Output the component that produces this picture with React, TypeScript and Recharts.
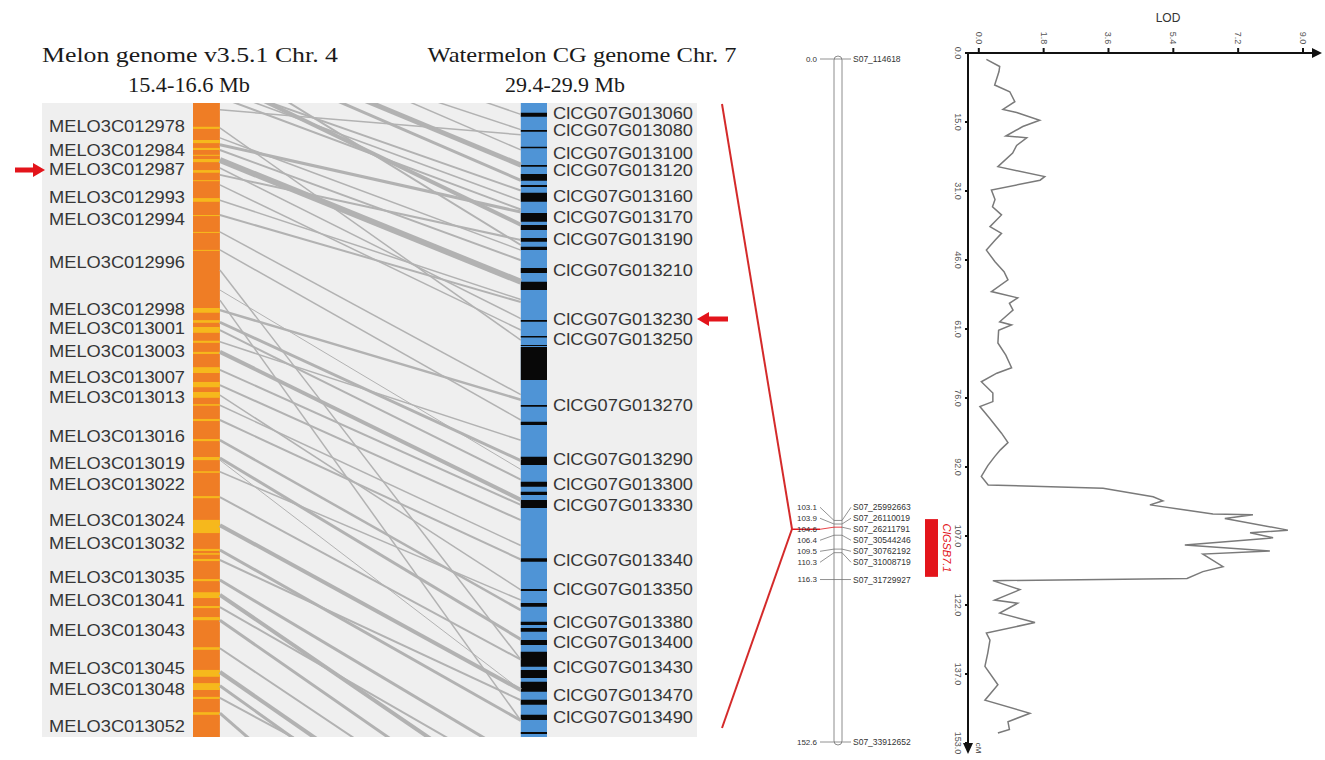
import React from 'react';
import { ScatterChart, Scatter, XAxis, YAxis, ReferenceArea, ReferenceLine } from 'recharts';

// ---- synteny panel (positions in Mb) ----
const melonGenes = [
  'MELO3C012978', 'MELO3C012984', 'MELO3C012987', 'MELO3C012993', 'MELO3C012994', 'MELO3C012996',
  'MELO3C012998', 'MELO3C013001', 'MELO3C013003', 'MELO3C013007', 'MELO3C013013', 'MELO3C013016',
  'MELO3C013019', 'MELO3C013022', 'MELO3C013024', 'MELO3C013032', 'MELO3C013035', 'MELO3C013041',
  'MELO3C013043', 'MELO3C013045', 'MELO3C013048', 'MELO3C013052',
];
const melonGenePos = [
  15.444, 15.488, 15.524, 15.578, 15.620, 15.700, 15.790, 15.825, 15.869, 15.918, 15.957, 16.030,
  16.082, 16.120, 16.189, 16.232, 16.297, 16.341, 16.397, 16.470, 16.508, 16.579,
];
const wmGenes = [
  'ClCG07G013060', 'ClCG07G013080', 'ClCG07G013100', 'ClCG07G013120', 'ClCG07G013160', 'ClCG07G013170',
  'ClCG07G013190', 'ClCG07G013210', 'ClCG07G013230', 'ClCG07G013250', 'ClCG07G013270', 'ClCG07G013290',
  'ClCG07G013300', 'ClCG07G013330', 'ClCG07G013340', 'ClCG07G013350', 'ClCG07G013380', 'ClCG07G013400',
  'ClCG07G013430', 'ClCG07G013470', 'ClCG07G013490',
];
const wmGenePos = [
  29.408, 29.421, 29.439, 29.453, 29.473, 29.490, 29.507, 29.532, 29.570, 29.586, 29.638, 29.681,
  29.700, 29.717, 29.760, 29.783, 29.809, 29.825, 29.845, 29.867, 29.884,
];
const melonStripes: [number, number][] = [
  [15.445, 15.449], [15.470, 15.476], [15.485, 15.489], [15.498, 15.500], [15.506, 15.512], [15.527, 15.532],
  [15.546, 15.548], [15.580, 15.587], [15.612, 15.614], [15.644, 15.646], [15.678, 15.680], [15.788, 15.797],
  [15.811, 15.816], [15.824, 15.835], [15.850, 15.854], [15.871, 15.875], [15.900, 15.911], [15.928, 15.938],
  [15.947, 15.958], [15.970, 15.973], [15.998, 16.002], [16.036, 16.040], [16.070, 16.076], [16.097, 16.100],
  [16.144, 16.148], [16.189, 16.214], [16.244, 16.248], [16.252, 16.255], [16.263, 16.267], [16.301, 16.305],
  [16.326, 16.337], [16.352, 16.356], [16.373, 16.379], [16.430, 16.435], [16.473, 16.486], [16.498, 16.511],
  [16.524, 16.528], [16.553, 16.558],
];
const wmStripes: [number, number][] = [
  [29.4077, 29.4108], [29.4213, 29.4226], [29.4345, 29.4357], [29.4489, 29.4502], [29.4560, 29.4613],
  [29.4647, 29.4662], [29.4707, 29.4778], [29.4868, 29.4936], [29.4962, 29.5002], [29.5065, 29.5094],
  [29.5133, 29.5159], [29.5301, 29.5341], [29.5409, 29.5475], [29.5711, 29.5725], [29.5838, 29.5849],
  [29.5908, 29.5916], [29.5924, 29.6185], [29.6382, 29.6395], [29.6513, 29.6540], [29.6789, 29.6855],
  [29.6987, 29.7026], [29.7065, 29.7091], [29.7131, 29.7194], [29.7591, 29.7617], [29.7833, 29.7849],
  [29.7943, 29.7972], [29.8091, 29.8117], [29.8140, 29.8170], [29.8235, 29.8274], [29.8327, 29.8446],
  [29.8472, 29.8535], [29.8564, 29.8643], [29.8707, 29.8746], [29.8825, 29.8865], [29.8960, 29.8976],
];
// melon Mb, watermelon Mb, block size (kb)
const links: [number, number, number][] = [
  [15.389, 29.484, 4], [15.375, 29.477, 3], [15.366, 29.469, 4], [15.356, 29.496, 8], [15.281, 29.449, 10],
  [15.300, 29.461, 6], [15.262, 29.421, 3], [15.243, 29.437, 3], [15.224, 29.409, 3], [15.319, 29.512, 4],
  [15.447, 29.587, 3], [15.479, 29.486, 6], [15.489, 29.524, 4], [15.508, 29.541, 12], [15.523, 29.570, 3],
  [15.536, 29.508, 4], [15.584, 29.555, 3], [15.612, 29.557, 4], [15.644, 29.630, 3], [15.678, 29.650, 3],
  [15.792, 29.634, 5], [15.815, 29.682, 6], [15.830, 29.697, 4], [15.852, 29.666, 3], [15.871, 29.713, 8],
  [15.905, 29.717, 4], [15.934, 29.729, 4], [15.953, 29.784, 3], [16.000, 29.760, 4], [16.038, 29.800, 5],
  [16.072, 29.823, 6], [16.098, 29.792, 3], [16.146, 29.839, 4], [16.199, 29.863, 8], [16.246, 29.887, 6],
  [16.265, 29.871, 4], [16.303, 29.918, 6], [16.331, 29.950, 8], [16.354, 29.934, 4], [16.379, 29.973, 6],
  [16.432, 29.989, 4], [16.477, 30.013, 8], [16.503, 30.029, 6], [16.526, 29.997, 4], [16.555, 30.087, 6],
  [15.773, 29.887, 3], [15.716, 29.839, 3], [15.413, 29.425, 3], [15.466, 29.516, 3], [15.555, 29.579, 3],
  [15.754, 29.689, 2], [15.972, 29.749, 3], [16.076, 29.863, 2],
];

// ---- linkage map (cM) ----
const markerNames = [
  'S07_114618', 'S07_25992663', 'S07_26110019', 'S07_26211791', 'S07_30544246',
  'S07_30762192', 'S07_31008719', 'S07_31729927', 'S07_33912652',
];
const markerPos = [0.0, 103.1, 103.9, 104.6, 106.4, 109.5, 110.3, 116.3, 152.6];
const qtlName = 'ClGSB7.1';
const qtlInterval: [number, number] = [102.8, 115.7];

// ---- LOD profile ----
const lodCm = [
  1.4, 3.0, 4.1, 7.1, 8.6, 10.8, 12.5, 13.2, 14.9, 16.3, 18.4, 18.8, 20.5, 22.2, 25.2, 27.4, 28.2, 30.4,
  32.5, 34.1, 35.9, 38.5, 40.0, 41.5, 43.7, 46.3, 48.5, 50.3, 52.9, 54.3, 55.5, 57.0, 59.6, 60.3, 61.5,
  64.3, 67.0, 69.8, 71.0, 72.9, 75.4, 77.3, 78.4, 81.0, 84.3, 86.4, 88.0, 89.5, 91.5, 93.9, 95.8, 96.5,
  98.4, 99.3, 100.2, 102.2, 102.4, 103.2, 105.8, 106.4, 107.5, 109.1, 110.4, 111.1, 113.9, 115.0, 116.5,
  117.0, 119.0, 121.3, 122.0, 124.2, 126.3, 128.6, 130.2, 133.0, 136.0, 140.1, 143.5, 146.4, 148.3, 150.0, 150.8,
];
const lodValues = [
  0.21, 0.58, 0.56, 0.44, 0.86, 1.0, 0.67, 1.05, 1.69, 1.22, 0.75, 1.33, 1.05, 0.94, 0.53, 1.83, 1.7, 0.35,
  0.45, 0.38, 0.63, 0.31, 0.63, 0.45, 0.21, 0.45, 0.7, 0.81, 0.35, 1.08, 0.85, 0.95, 0.58, 0.91, 0.55,
  0.53, 0.75, 0.91, 0.5, 0.07, 0.39, 0.39, 0.03, 0.3, 0.63, 0.81, 0.6, 0.44, 0.25, 0.07, 0.26, 3.45,
  4.84, 5.11, 4.75, 6.5, 7.61, 6.83, 8.58, 7.53, 8.17, 5.72, 8.08, 6.22, 6.78, 6.22, 5.78,
  0.39, 1.14, 0.44, 1.08, 0.58, 1.56, 0.21, 0.31, 0.25, 0.17, 0.53, 0.17, 1.42, 0.81, 0.85, 0.53,
];
const lodTicks = [0, 1.8, 3.6, 5.4, 7.2, 9.0];
const cmTicks = [0, 15.3, 30.6, 45.9, 61.2, 76.5, 91.8, 107.1, 122.4, 137.7, 153];
const cmTickLabels = ['0.0', '15.0', '31.0', '46.0', '61.0', '76.0', '92.0', '107.0', '122.0', '137.0', '153.0'];

const SANS = "'Liberation Sans', Arial, sans-serif";
const SERIF = "'Liberation Serif', 'Times New Roman', serif";
const RED = '#e3141b';

const MEL_DOMAIN: [number, number] = [15.4, 16.6];
const WM_DOMAIN: [number, number] = [29.4, 29.9];
const wmToMel = (v: number) =>
  MEL_DOMAIN[0] + ((v - WM_DOMAIN[0]) * (MEL_DOMAIN[1] - MEL_DOMAIN[0])) / (WM_DOMAIN[1] - WM_DOMAIN[0]);

// bar columns in the synteny plot (x units 0..100)
const ORANGE_R = 7.6;
const BLUE_L = 92.6;

const geneTick = (names: string[], positions: number[], anchor: 'start' | 'end', len: number) => (p: any) => {
  let i = positions.indexOf(p.payload.value);
  if (i < 0) i = positions.findIndex((v) => Math.abs(v - p.payload.value) < 1e-6);
  return (
    <text x={p.x} y={p.y} dy="0.36em" textAnchor={anchor} fontSize={17} fill="#363636" fontFamily={SANS}
      textLength={len} lengthAdjust="spacingAndGlyphs">
      {names[i]}
    </text>
  );
};

const SyntenyChart = () => (
  <ScatterChart width={655} height={634} margin={{ top: 0, right: 0, bottom: 0, left: 0 }}>
    <XAxis type="number" dataKey="x" domain={[0, 100]} hide allowDataOverflow />
    <YAxis yAxisId="mel" type="number" domain={MEL_DOMAIN} reversed allowDataOverflow ticks={melonGenePos}
      interval={0} width={151} axisLine={false} tickLine={false}
      tick={geneTick(melonGenes, melonGenePos, 'end', 136)} />
    <YAxis yAxisId="wm" orientation="right" type="number" domain={WM_DOMAIN} reversed allowDataOverflow
      ticks={wmGenePos} interval={0} width={150} axisLine={false} tickLine={false} tickSize={4}
      tick={geneTick(wmGenes, wmGenePos, 'start', 140)} />
    {links.map(([m, w, kb], i) => (
      <ReferenceLine key={`l${i}`} yAxisId="mel" ifOverflow="hidden" stroke="#b2b2b2" strokeWidth={kb / 2}
        segment={[{ x: ORANGE_R, y: m }, { x: BLUE_L, y: wmToMel(w) }]} />
    ))}
    <ReferenceArea yAxisId="mel" x1={0} x2={ORANGE_R} y1={MEL_DOMAIN[0]} y2={MEL_DOMAIN[1]}
      fill="#ef7d25" fillOpacity={1} ifOverflow="hidden" />
    {melonStripes.map(([a, b], i) => (
      <ReferenceArea key={`m${i}`} yAxisId="mel" x1={0} x2={ORANGE_R} y1={a} y2={b}
        fill="#f6b81c" fillOpacity={1} />
    ))}
    <ReferenceArea yAxisId="wm" x1={BLUE_L} x2={100} y1={WM_DOMAIN[0]} y2={WM_DOMAIN[1]}
      fill="#4f94d6" fillOpacity={1} ifOverflow="hidden" />
    {wmStripes.map(([a, b], i) => (
      <ReferenceArea key={`w${i}`} yAxisId="wm" x1={BLUE_L} x2={100} y1={a} y2={b}
        fill="#080808" fillOpacity={1} />
    ))}
  </ScatterChart>
);

// spread overlapping marker labels around their group mean
const spreadLabels = (pos: number[], gap: number) => {
  const groups: { sum: number; n: number; idx: number[] }[] = [];
  pos.forEach((p, i) => {
    groups.push({ sum: p, n: 1, idx: [i] });
    while (groups.length > 1) {
      const b = groups[groups.length - 1];
      const a = groups[groups.length - 2];
      const aEnd = a.sum / a.n + ((a.n - 1) * gap) / 2;
      const bStart = b.sum / b.n - ((b.n - 1) * gap) / 2;
      if (bStart - aEnd < gap) {
        a.sum += b.sum;
        a.n += b.n;
        a.idx.push(...b.idx);
        groups.pop();
      } else break;
    }
  });
  const out: number[] = new Array(pos.length);
  groups.forEach((g) => {
    const start = g.sum / g.n - ((g.n - 1) * gap) / 2;
    g.idx.forEach((i, k) => (out[i] = start + k * gap));
  });
  return out;
};

const MAP_MAX = 152.6;
const labelPos = spreadLabels(markerPos, 2.46);
const HILITE = 3;
// map column layout (x units)
const L_TEXT = 37, L_LINE = 40, CHR_L = 54, CHR_R = 62, R_LINE = 71, R_TEXT = 73, QTL_L = 145, QTL_R = 158;

const MapChart = () => {
  const leftLabels = markerPos.map((p, i) => ({ x: L_TEXT, y: labelPos[i], t: p.toFixed(1) }));
  const rightLabels = markerNames.map((n, i) => ({ x: R_TEXT, y: labelPos[i], t: n }));
  return (
    <ScatterChart width={180} height={760} margin={{ top: 59, right: 0, bottom: 18, left: 0 }}>
      <XAxis type="number" dataKey="x" domain={[0, 180]} hide />
      <YAxis type="number" dataKey="y" domain={[0, MAP_MAX]} reversed hide />
      <ReferenceArea x1={CHR_L} x2={CHR_R} y1={0} y2={MAP_MAX} ifOverflow="visible"
        shape={(p: any) => (
          <rect x={p.x} y={p.y - 3} width={p.width} height={p.height + 6} rx={4} ry={4}
            fill="#fff" stroke="#8c8c8c" strokeWidth={1} />
        )} />
      {markerPos.map((p, i) => (
        <ReferenceLine key={`lc${i}`} ifOverflow="visible" stroke={i === HILITE ? RED : '#777'} strokeWidth={0.8}
          segment={[{ x: L_LINE, y: labelPos[i] }, { x: CHR_L, y: p }]} />
      ))}
      {markerPos.map((p, i) => (
        <ReferenceLine key={`mc${i}`} ifOverflow="visible" stroke={i === HILITE ? RED : '#777'} strokeWidth={0.8}
          segment={[{ x: CHR_L, y: p }, { x: CHR_R, y: p }]} />
      ))}
      {markerPos.map((p, i) => (
        <ReferenceLine key={`rc${i}`} ifOverflow="visible" stroke="#777" strokeWidth={0.8}
          segment={[{ x: CHR_R, y: p }, { x: R_LINE, y: labelPos[i] }]} />
      ))}
      <ReferenceLine ifOverflow="visible" stroke={RED} strokeWidth={1.5}
        segment={[{ x: 12, y: labelPos[HILITE] }, { x: L_LINE, y: labelPos[HILITE] }]} />
      <Scatter data={leftLabels} isAnimationActive={false}
        shape={(p: any) => (
          <text x={p.cx} y={p.cy} dy="0.35em" textAnchor="end" fontSize={8} fill="#333" fontFamily={SANS}>
            {p.payload.t}
          </text>
        )} />
      <Scatter data={rightLabels} isAnimationActive={false}
        shape={(p: any) => (
          <text x={p.cx} y={p.cy} dy="0.35em" textAnchor="start" fontSize={8.5} fill="#333" fontFamily={SANS}>
            {p.payload.t}
          </text>
        )} />
      <ReferenceArea x1={QTL_L} x2={QTL_R} y1={qtlInterval[0]} y2={qtlInterval[1]} ifOverflow="visible"
        shape={(p: any) => (
          <g>
            <rect x={p.x} y={p.y} width={p.width} height={p.height} fill={RED} />
            <text x={p.x + p.width + 9} y={p.y + p.height / 2} textAnchor="middle" dominantBaseline="central"
              transform={`rotate(90 ${p.x + p.width + 9} ${p.y + p.height / 2})`} fontSize={11}
              fontStyle="italic" fill={RED} fontFamily={SANS}>
              {qtlName}
            </text>
          </g>
        )} />
    </ScatterChart>
  );
};

const lodData = lodCm.map((c, i) => ({ cm: c, lod: lodValues[i] }));

const LodChart = () => (
  <ScatterChart width={395} height={760} margin={{ top: 0, right: 13, bottom: 17, left: 0 }}>
    <XAxis xAxisId={0} orientation="top" type="number" dataKey="lod" domain={[-0.3, 9.25]} allowDataOverflow
      ticks={lodTicks} interval={0} height={53} tickSize={5}
      axisLine={{ stroke: '#111', strokeWidth: 2 }} tickLine={{ stroke: '#111', strokeWidth: 2 }}
      tick={(p: any) => (
        <text x={p.x} y={p.y - 8} textAnchor="middle" dominantBaseline="central"
          transform={`rotate(90 ${p.x} ${p.y - 8})`} fontSize={9} fill="#555" fontFamily={SANS}>
          {p.payload.value.toFixed(1)}
        </text>
      )} />
    <YAxis yAxisId={0} type="number" dataKey="cm" domain={[0, 153]} reversed allowDataOverflow ticks={cmTicks}
      interval={0} width={38} tickSize={3}
      axisLine={{ stroke: '#111', strokeWidth: 2 }} tickLine={{ stroke: '#111', strokeWidth: 2 }}
      tick={(p: any) => (
        <text x={p.x - 5} y={p.y} textAnchor="middle" dominantBaseline="central"
          transform={`rotate(90 ${p.x - 5} ${p.y})`} fontSize={9} fill="#555" fontFamily={SANS}>
          {cmTickLabels[cmTicks.indexOf(p.payload.value)]}
        </text>
      )} />
    <Scatter data={lodData} isAnimationActive={false} line={{ stroke: '#7a7a7a', strokeWidth: 1.5 }}
      shape={() => <g />} />
  </ScatterChart>
);

export default function App() {
  return (
    <div style={{ position: 'absolute', left: 0, top: 0, width: 1325, height: 760, background: '#fff', overflow: 'hidden' }}>
      <div style={{ position: 'absolute', left: 42, top: 103, width: 655, height: 634, background: '#efefef' }} />
      <div style={{ position: 'absolute', left: 42, top: 103 }}>
        <SyntenyChart />
      </div>
      <div style={{ position: 'absolute', left: 780, top: 0 }}>
        <MapChart />
      </div>
      <div style={{ position: 'absolute', left: 930, top: 0 }}>
        <LodChart />
      </div>
      <svg style={{ position: 'absolute', left: 0, top: 0, pointerEvents: 'none' }} width={1325} height={760}>
        <g fontFamily={SERIF} fontSize={22} fill="#1a1a1a" textAnchor="middle">
          <text x={190} y={62} textLength={296} lengthAdjust="spacingAndGlyphs">Melon genome v3.5.1 Chr. 4</text>
          <text x={189} y={92} textLength={122} lengthAdjust="spacingAndGlyphs">15.4-16.6 Mb</text>
          <text x={582} y={62} textLength={309} lengthAdjust="spacingAndGlyphs">Watermelon CG genome Chr. 7</text>
          <text x={565} y={92} textLength={120} lengthAdjust="spacingAndGlyphs">29.4-29.9 Mb</text>
        </g>
        {/* gene arrows */}
        <rect x={15} y={167.5} width={20} height={5} fill={RED} />
        <polygon points="33,163 45,170 33,177" fill={RED} />
        <rect x={708} y={316.5} width={20} height={5} fill={RED} />
        <polygon points="697,319 709,312 709,326" fill={RED} />
        {/* QTL zoom lines */}
        <line x1={722} y1={104} x2={792} y2={529} stroke="#d42a2a" strokeWidth={2} />
        <line x1={722} y1={728} x2={792} y2={529} stroke="#d42a2a" strokeWidth={2} />
        {/* LOD axis decorations */}
        <text x={1168} y={22} textAnchor="middle" fontFamily={SANS} fontSize={12} fill="#333">LOD</text>
        <polygon points="1312,48 1322,53 1312,58" fill="#111" />
        <polygon points="963,743 973,743 968,754" fill="#111" />
        <text x={978} y={748} textAnchor="middle" dominantBaseline="central" transform="rotate(90 978 748)"
          fontFamily={SANS} fontSize={8} fill="#333">cM</text>
      </svg>
    </div>
  );
}
